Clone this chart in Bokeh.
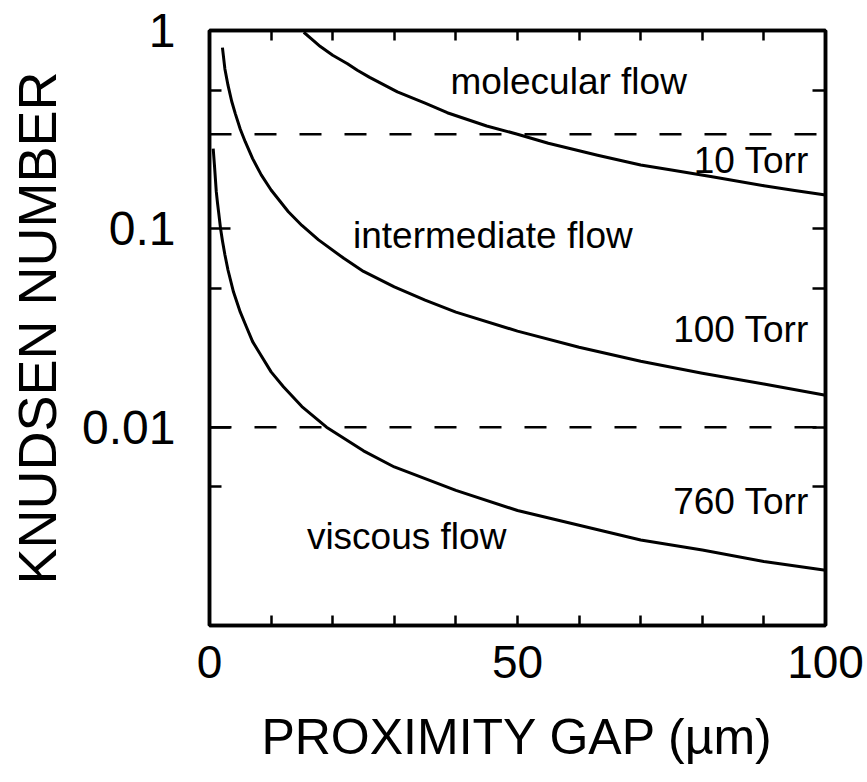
from bokeh.plotting import figure
from bokeh.models import FixedTicker, LinearAxis, LogAxis, CustomJSTickFormatter, ColumnDataSource
from bokeh.core.properties import value
from bokeh.embed import file_html
from bokeh.resources import INLINE

# ---- data ----
gap_10 = [15.3, 16.5, 18, 20, 22.4, 24, 26, 30.5, 35, 38.6, 45, 50, 55, 63, 70, 75, 81.6, 90, 95, 100]
kn_10 = [0.98, 0.91, 0.83, 0.75, 0.68, 0.63, 0.58, 0.49, 0.43, 0.385, 0.33, 0.30, 0.27, 0.235,
         0.21, 0.198, 0.183, 0.165, 0.156, 0.148]

gap_100 = [2.1, 2.5, 3, 3.6, 4.2, 5, 5.8, 7, 8.4, 10, 12.8, 15, 17.7, 21.8, 25, 30, 35, 40, 50,
           60, 70, 80, 90, 100]
kn_100 = [0.82, 0.64, 0.53, 0.44, 0.38, 0.318, 0.275, 0.226, 0.187, 0.157, 0.122, 0.104, 0.088,
          0.071, 0.061, 0.051, 0.0437, 0.038, 0.0305, 0.0253, 0.0215, 0.0187, 0.0165, 0.0145]

gap_760 = [0.6, 0.8, 1.1, 1.3, 1.5, 1.8, 2.1, 2.5, 3, 3.9, 5, 6, 7, 8, 10, 12, 15, 19, 25, 30,
           40, 50, 60, 70, 80, 90, 100]
kn_760 = [0.254, 0.21, 0.154, 0.135, 0.12, 0.10, 0.087, 0.074, 0.062, 0.048, 0.038, 0.032,
          0.027, 0.024, 0.019, 0.016, 0.0127, 0.010, 0.0076, 0.0063, 0.0048, 0.0038, 0.0032,
          0.0027, 0.0024, 0.0021, 0.0019]

dash_levels = [0.3, 0.01]
x_range_vals = [0, 100]
y_range_vals = [0.001, 1]

x_major_ticks = [0, 50, 100]
x_minor_ticks = [10, 20, 30, 40, 60, 70, 80, 90]
x_top_ticks = [10, 20, 30, 40, 50, 60, 70, 80, 90]
y_major_ticks = [0.01, 0.1, 1]
y_minor_ticks = [0.005, 0.05, 0.5]
y_right_ticks = [0.005, 0.01, 0.05, 0.1, 0.5]

label_texts = ["molecular flow", "intermediate flow", "viscous flow"]
label_x = [58.3, 46.0, 32.0]
label_y = [0.55, 0.093, 0.0028]

torr_texts = ["10 Torr", "100 Torr", "760 Torr"]
torr_x = [97.3, 97.3, 97.3]
torr_y = [0.22, 0.031, 0.0042]

FONT = "Liberation Sans"

p = figure(width=867, height=782, x_range=tuple(x_range_vals), y_range=tuple(y_range_vals),
           y_axis_type="log", output_backend="svg", toolbar_location=None,
           min_border_left=209, min_border_right=42, min_border_top=30, min_border_bottom=157,
           x_axis_location=None, y_axis_location=None)
p.xgrid.visible = False
p.ygrid.visible = False
p.outline_line_color = "black"
p.outline_line_width = 3.5
p.background_fill_color = "white"
p.border_fill_color = "white"

fmt = CustomJSTickFormatter(code="return tick >= 1 ? '1' : tick.toString();")

# bottom axis
xb = LinearAxis(ticker=FixedTicker(ticks=x_major_ticks, minor_ticks=x_minor_ticks),
                axis_label="PROXIMITY GAP (µm)")
# left axis
yl = LogAxis(ticker=FixedTicker(ticks=y_major_ticks, minor_ticks=y_minor_ticks),
             axis_label="KNUDSEN NUMBER", formatter=fmt)
# top and right axes: ticks only, no labels
xt = LinearAxis(ticker=FixedTicker(ticks=[], minor_ticks=x_top_ticks))
yr = LogAxis(ticker=FixedTicker(ticks=[], minor_ticks=y_right_ticks))

for ax in (xb, yl, xt, yr):
    ax.axis_line_width = 3.5
    ax.axis_line_color = "black"
    ax.major_tick_line_width = 2.5
    ax.minor_tick_line_width = 2.5
    ax.major_tick_out = 0
    ax.minor_tick_out = 0
    ax.major_label_text_font = FONT
    ax.axis_label_text_font = FONT
    ax.axis_label_text_font_style = "normal"
    ax.major_label_text_color = "black"
    ax.axis_label_text_color = "black"

xb.major_tick_in = 10
xb.minor_tick_in = 10
xt.minor_tick_in = 10
yl.major_tick_in = 21
yl.minor_tick_in = 12
yr.minor_tick_in = 13

xb.major_label_text_font_size = "46px"
xb.major_label_standoff = 20
xb.axis_label_text_font_size = "50px"
xb.axis_label_standoff = 28

yl.major_label_text_font_size = "48px"
yl.major_label_standoff = 34
yl.axis_label_text_font_size = "54px"
yl.axis_label_standoff = 12

p.add_layout(xb, "below")
p.add_layout(yl, "left")
p.add_layout(xt, "above")
p.add_layout(yr, "right")

# dashed flow-regime boundaries
for lvl in dash_levels:
    p.line(x=x_range_vals, y=[lvl, lvl], line_color="black", line_width=2.5, line_dash="22 23")

# curves
for gx, ky in ((gap_10, kn_10), (gap_100, kn_100), (gap_760, kn_760)):
    p.line(x=gx, y=ky, line_color="black", line_width=3, line_join="round")

src_lab = ColumnDataSource(dict(x=label_x, y=label_y, t=label_texts))
p.text(x="x", y="y", text="t", source=src_lab, text_font=value(FONT), text_font_size="37px",
       text_align="center", text_baseline="middle", text_color="black")

src_torr = ColumnDataSource(dict(x=torr_x, y=torr_y, t=torr_texts))
p.text(x="x", y="y", text="t", source=src_torr, text_font=value(FONT), text_font_size="37px",
       text_align="right", text_baseline="middle", text_color="black")

open("out.html", "w").write(file_html(p, INLINE))
